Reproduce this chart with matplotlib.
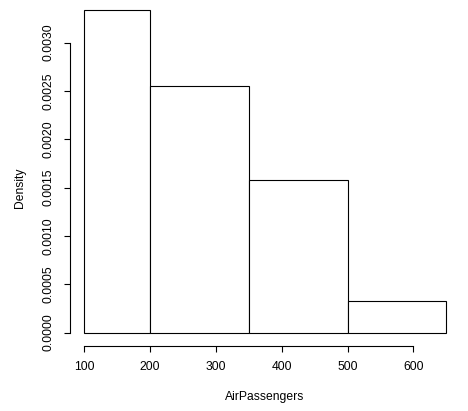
import matplotlib
matplotlib.use("Agg")
import matplotlib.pyplot as plt
import numpy as np

breaks = [100, 200, 350, 500, 650]
density = [0.003333, 0.002546, 0.001574, 0.000324]
xticks = [100, 200, 300, 400, 500, 600]
yticks = [0.0, 0.0005, 0.0010, 0.0015, 0.0020, 0.0025, 0.0030]
ytick_labels = ["0.0000", "0.0005", "0.0010", "0.0015", "0.0020", "0.0025", "0.0030"]

W, H = 468, 411
plt.rcParams['font.family'] = ['Liberation Sans', 'DejaVu Sans']
fig = plt.figure(figsize=(W / 100, H / 100), dpi=100)

left_px, right_px = 69.8, 460.7
bottom_px, top_px = 345.5, -2.6
ax = fig.add_axes([left_px / W, 1 - bottom_px / H,
                   (right_px - left_px) / W, (bottom_px - top_px) / H])
ax.patch.set_alpha(0)

edges = np.array(breaks)
ax.bar(edges[:-1], density, width=np.diff(edges), align='edge',
       facecolor='white', edgecolor='black', linewidth=0.8)

ax.set_xlim(78, 672)
ax.set_ylim(-0.0001333, 0.0034667)

for s in ['top', 'right']:
    ax.spines[s].set_visible(False)
ax.spines['left'].set_bounds(0, 0.003)
ax.spines['bottom'].set_bounds(100, 600)
for s in ['left', 'bottom']:
    ax.spines[s].set_linewidth(0.8)

ax.set_xticks(xticks)
ax.set_xticklabels([str(v) for v in xticks])
ax.set_yticks(yticks)
ax.set_yticklabels(ytick_labels, rotation=90, va='center')
ax.tick_params(axis='both', length=4.3, width=0.8, labelsize=8.7, pad=7)

fig.text(20 / W, 1 - 188 / H, "Density", rotation=90, ha='center', va='center', fontsize=8.7)
fig.text(265 / W, 1 - 396.7 / H, "AirPassengers", ha='center', va='center', fontsize=8.7)

fig.savefig("out.png", dpi=100)
